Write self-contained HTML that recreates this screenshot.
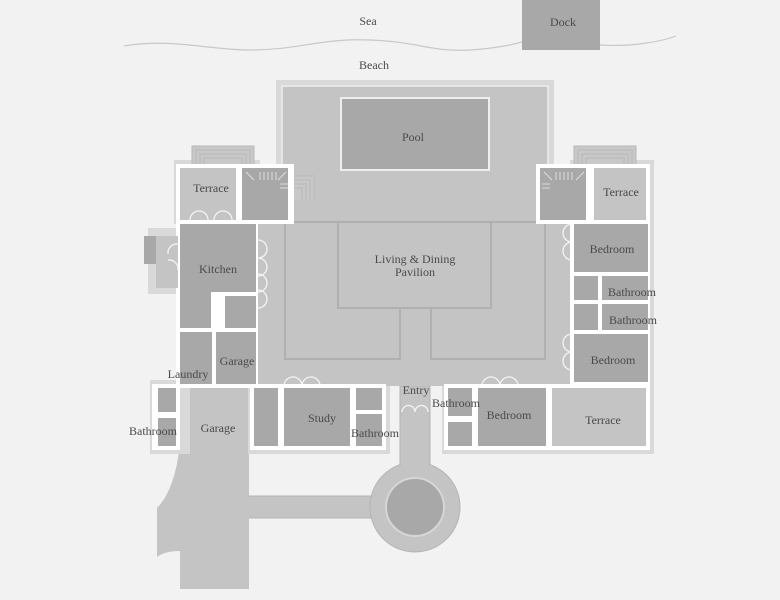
<!DOCTYPE html>
<html><head><meta charset="utf-8"><style>
html,body{margin:0;padding:0;background:#f2f2f2;}
svg{display:block}
text{font-family:"Liberation Serif",serif;font-size:12px;fill:#4a4a4a;text-anchor:middle}
</style></head><body>
<svg width="780" height="600" viewBox="0 0 780 600" xmlns="http://www.w3.org/2000/svg">
<rect width="780" height="600" fill="#f2f2f2"/>
<!-- sea -->
<path d="M124,46 C170,38 210,50 250,50 C300,50 320,38 370,40 C420,42 430,52 470,50 C500,48 515,44 522,42 M600,45 C630,47 660,42 676,36" fill="none" stroke="#c8c8c8" stroke-width="1.2"/>
<rect x="522" y="0" width="78" height="50" fill="#a8a8a8"/>
<text x="563" y="26">Dock</text>
<text x="368" y="25">Sea</text>
<text x="374" y="69">Beach</text>

<!-- drive & garage -->
<rect x="248" y="496" width="130" height="22" fill="#c4c4c4" stroke="#b4b4b4"/>
<rect x="400" y="386" width="30" height="124" fill="#c4c4c4" stroke="#b4b4b4"/>
<circle cx="415" cy="507" r="45" fill="#c4c4c4" stroke="#b4b4b4"/>
<rect x="401" y="440" width="28" height="40" fill="#c4c4c4"/>
<rect x="372" y="497" width="10" height="20" fill="#c4c4c4"/>
<circle cx="415" cy="507" r="29" fill="#a8a8a8" stroke="#d6d6d6" stroke-width="2"/>
<path d="M180,386 H249 V589 H180 V551 C170,551 162,553 157,557 V508 C170,495 178,470 180,440 Z" fill="#c4c4c4"/>

<!-- pool deck -->
<rect x="276" y="80" width="278" height="150" fill="#d9d9d9"/>
<rect x="282" y="86" width="266" height="150" fill="#c4c4c4" stroke="#eeeeee" stroke-width="1.5"/>
<rect x="341" y="98" width="148" height="72" fill="#a8a8a8" stroke="#eee" stroke-width="2"/>
<text x="413" y="141">Pool</text>
<g stroke="#b0b0b0" fill="none"><rect x="389" y="201" width="50" height="21"/><path d="M389,206H439M389,211H439M389,216H439"/></g>

<!-- outer bands -->
<rect x="174" y="160" width="86" height="64" fill="#d9d9d9"/>
<rect x="570" y="160" width="84" height="64" fill="#d9d9d9"/>
<rect x="148" y="228" width="40" height="66" fill="#d9d9d9"/>
<rect x="150" y="380" width="40" height="74" fill="#d9d9d9"/>
<rect x="248" y="384" width="142" height="70" fill="#d9d9d9"/>
<rect x="442" y="384" width="212" height="70" fill="#d9d9d9"/>
<rect x="648" y="160" width="6" height="294" fill="#d9d9d9"/>
<g fill="#c8c8c8" stroke="#b8b8b8">
<rect x="192" y="146" width="62" height="22"/><rect x="196" y="150" width="54" height="18"/><rect x="200" y="154" width="46" height="14"/><rect x="204" y="158" width="38" height="10"/>
<rect x="574" y="146" width="62" height="22"/><rect x="578" y="150" width="54" height="18"/><rect x="582" y="154" width="46" height="14"/><rect x="586" y="158" width="38" height="10"/>
<rect x="288" y="176" width="26" height="46"/><rect x="288" y="180" width="22" height="42"/><rect x="288" y="184" width="18" height="38"/><rect x="288" y="188" width="14" height="34"/>
</g>

<!-- main floor -->
<rect x="256" y="220" width="318" height="166" fill="#c4c4c4"/>
<rect x="283" y="200" width="264" height="24" fill="#c4c4c4"/>
<g fill="none" stroke="#b0b0b0" stroke-width="2">
<path d="M285,222H545V359H431V308H400V359H285Z"/>
<rect x="338" y="222" width="153" height="86"/>
</g>
<text x="415" y="263">Living &amp; Dining</text>
<text x="415" y="276">Pavilion</text>

<!-- left wing -->
<rect x="176" y="164" width="82" height="224" fill="#fff"/>
<rect x="180" y="168" width="58" height="52" fill="#c4c4c4"/>
<text x="211" y="192">Terrace</text>
<rect x="180" y="224" width="76" height="104" fill="#a8a8a8"/>
<rect x="211" y="292" width="14" height="36" fill="#fff"/>
<rect x="211" y="292" width="45" height="4" fill="#fff"/>
<rect x="180" y="332" width="32" height="52" fill="#a8a8a8"/>
<rect x="216" y="332" width="40" height="52" fill="#a8a8a8"/>
<text x="218" y="273">Kitchen</text>
<text x="237" y="365">Garage</text>
<text x="188" y="378">Laundry</text>
<rect x="236" y="164" width="58" height="60" fill="#fff"/>
<rect x="242" y="168" width="46" height="52" fill="#a8a8a8"/>
<g stroke="#ddd"><path d="M260,172V180M264,172V180M268,172V180M272,172V180M276,172V180M246,172L254,180M286,172L278,180M280,184H288M280,188H288"/></g>
<rect x="144" y="236" width="12" height="28" fill="#a8a8a8"/>
<rect x="156" y="236" width="22" height="52" fill="#c4c4c4"/>
<g fill="none" stroke="#f4f4f4" stroke-width="1.3">
<path d="M190,220a9,9 0 0 1 18,0M214,220a9,9 0 0 1 18,0"/>
<path d="M258,240a9,9 0 0 1 0,18M258,258a9,9 0 0 1 0,18M258,274a9,9 0 0 1 0,18M258,290a9,9 0 0 1 0,18"/>
<path d="M178,244a9,9 0 0 0 -10,10M178,270a9,9 0 0 0 -10,-10"/>
<path d="M284,386a9,9 0 0 1 18,0M302,386a9,9 0 0 1 18,0"/>
<path d="M482,386a9,9 0 0 1 18,0M500,386a9,9 0 0 1 18,0"/>
<path d="M594,222a9,9 0 0 1 18,0M612,222a9,9 0 0 1 18,0"/>
<path d="M590,384a9,9 0 0 0 18,0M608,384a9,9 0 0 0 18,0"/>
<path d="M572,224a9,9 0 0 0 0,18M572,242a9,9 0 0 0 0,18M572,334a9,9 0 0 0 0,18M572,352a9,9 0 0 0 0,18"/>
<path d="M548,392a9,9 0 0 1 0,18M548,410a9,9 0 0 1 0,18"/>
<path d="M402,412a6,6 0 0 1 13,0a6,6 0 0 1 13,0"/>
</g>

<!-- lower left -->
<rect x="152" y="384" width="28" height="66" fill="#fff"/>
<rect x="158" y="388" width="18" height="24" fill="#a8a8a8"/>
<rect x="158" y="418" width="18" height="28" fill="#a8a8a8"/>
<text x="153" y="435">Bathroom</text>
<text x="218" y="432">Garage</text>
<rect x="250" y="384" width="136" height="66" fill="#fff"/>
<rect x="254" y="388" width="24" height="58" fill="#a8a8a8"/>
<rect x="284" y="388" width="66" height="58" fill="#a8a8a8"/>
<rect x="356" y="388" width="26" height="22" fill="#a8a8a8"/>
<rect x="356" y="414" width="26" height="32" fill="#a8a8a8"/>
<text x="322" y="422">Study</text>
<text x="375" y="437">Bathroom</text>
<text x="416" y="394">Entry</text>

<!-- lower right -->
<rect x="444" y="384" width="206" height="66" fill="#fff"/>
<rect x="448" y="388" width="24" height="28" fill="#a8a8a8"/>
<rect x="448" y="422" width="24" height="24" fill="#a8a8a8"/>
<rect x="478" y="388" width="68" height="58" fill="#a8a8a8"/>
<rect x="552" y="388" width="94" height="58" fill="#c4c4c4"/>
<text x="456" y="407">Bathroom</text>
<text x="509" y="419">Bedroom</text>
<text x="603" y="424">Terrace</text>

<!-- right wing -->
<rect x="536" y="164" width="58" height="60" fill="#fff"/>
<rect x="540" y="168" width="46" height="52" fill="#a8a8a8"/>
<g stroke="#ddd"><path d="M556,172V180M560,172V180M564,172V180M568,172V180M572,172V180M544,172L552,180M584,172L576,180M542,184H550M542,188H550"/></g>
<rect x="590" y="164" width="60" height="60" fill="#fff"/>
<rect x="594" y="168" width="52" height="52" fill="#c4c4c4"/>
<text x="621" y="196">Terrace</text>
<rect x="570" y="220" width="80" height="166" fill="#fff"/>
<rect x="574" y="224" width="74" height="48" fill="#a8a8a8"/>
<rect x="574" y="276" width="74" height="24" fill="#a8a8a8"/>
<rect x="574" y="304" width="74" height="26" fill="#a8a8a8"/>
<rect x="574" y="334" width="74" height="48" fill="#a8a8a8"/>
<rect x="598" y="276" width="4" height="24" fill="#fff"/>
<rect x="598" y="304" width="4" height="26" fill="#fff"/>
<text x="612" y="253">Bedroom</text>
<text x="632" y="296">Bathroom</text>
<text x="633" y="324">Bathroom</text>
<text x="613" y="364">Bedroom</text>
</svg>
</body></html>
